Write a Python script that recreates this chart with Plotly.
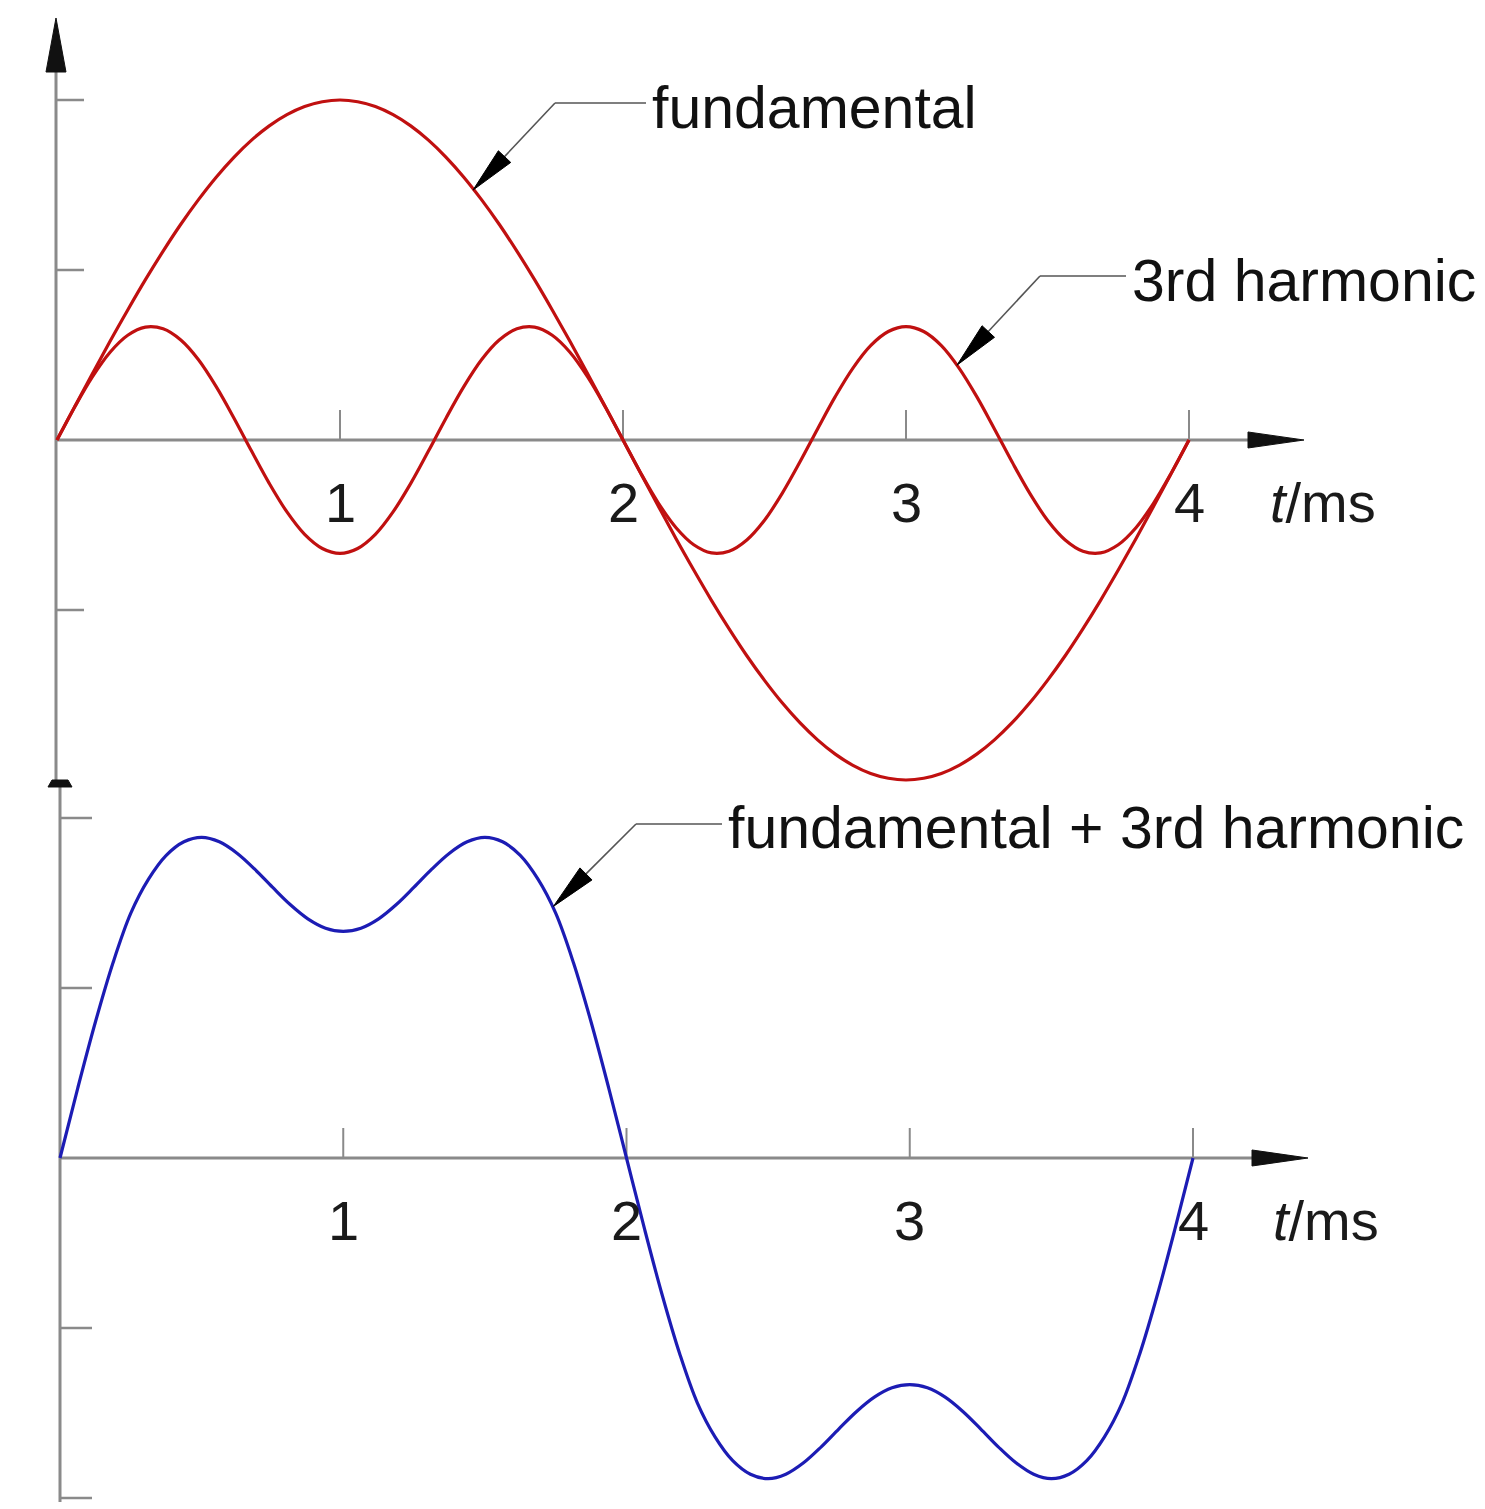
import plotly.graph_objects as go
import math

# ---------------- data ----------------
t_ms = [0, 0.0625, 0.125, 0.1875, 0.25, 0.3125, 0.375, 0.4375, 0.5,
        0.5625, 0.625, 0.6875, 0.75, 0.8125, 0.875, 0.9375, 1.0,
        1.0625, 1.125, 1.1875, 1.25, 1.3125, 1.375, 1.4375, 1.5,
        1.5625, 1.625, 1.6875, 1.75, 1.8125, 1.875, 1.9375, 2.0,
        2.0625, 2.125, 2.1875, 2.25, 2.3125, 2.375, 2.4375, 2.5,
        2.5625, 2.625, 2.6875, 2.75, 2.8125, 2.875, 2.9375, 3.0,
        3.0625, 3.125, 3.1875, 3.25, 3.3125, 3.375, 3.4375, 3.5,
        3.5625, 3.625, 3.6875, 3.75, 3.8125, 3.875, 3.9375, 4.0]

fundamental = [0, 0.196, 0.390, 0.581, 0.765, 0.943, 1.111, 1.269, 1.414,
               1.546, 1.663, 1.764, 1.848, 1.914, 1.962, 1.990, 2.0,
               1.990, 1.962, 1.914, 1.848, 1.764, 1.663, 1.546, 1.414,
               1.269, 1.111, 0.943, 0.765, 0.581, 0.390, 0.196, 0,
               -0.196, -0.390, -0.581, -0.765, -0.943, -1.111, -1.269, -1.414,
               -1.546, -1.663, -1.764, -1.848, -1.914, -1.962, -1.990, -2.0,
               -1.990, -1.962, -1.914, -1.848, -1.764, -1.663, -1.546, -1.414,
               -1.269, -1.111, -0.943, -0.765, -0.581, -0.390, -0.196, 0]

harmonic3 = [0, 0.194, 0.371, 0.516, 0.616, 0.664, 0.654, 0.588, 0.472,
             0.314, 0.130, -0.065, -0.255, -0.423, -0.555, -0.638, -0.667,
             -0.638, -0.555, -0.423, -0.255, -0.065, 0.130, 0.314, 0.472,
             0.588, 0.654, 0.664, 0.616, 0.516, 0.371, 0.194, 0,
             -0.194, -0.371, -0.516, -0.616, -0.664, -0.654, -0.588, -0.472,
             -0.314, -0.130, 0.065, 0.255, 0.423, 0.555, 0.638, 0.667,
             0.638, 0.555, 0.423, 0.255, 0.065, -0.130, -0.314, -0.472,
             -0.588, -0.654, -0.664, -0.616, -0.516, -0.371, -0.194, 0]

combined = [0, 0.41, 0.80, 1.15, 1.44, 1.64, 1.78, 1.86, 1.886,
            1.86, 1.793, 1.699, 1.593, 1.491, 1.407, 1.352, 1.333,
            1.352, 1.407, 1.491, 1.593, 1.699, 1.793, 1.86, 1.886,
            1.86, 1.78, 1.64, 1.44, 1.15, 0.80, 0.41, 0,
            -0.41, -0.80, -1.15, -1.44, -1.64, -1.78, -1.86, -1.886,
            -1.86, -1.793, -1.699, -1.593, -1.491, -1.407, -1.352, -1.333,
            -1.352, -1.407, -1.491, -1.593, -1.699, -1.793, -1.86, -1.886,
            -1.86, -1.78, -1.64, -1.44, -1.15, -0.80, -0.41, 0]

x_ticks = [1, 2, 3, 4]
x_tick_labels = ["1", "2", "3", "4"]
y_ticks_top = [2, 1, -1]
y_ticks_bottom = [2, 1, -1, -2]
axis_title = "<i>t</i>/ms"
label_fund = "fundamental"
label_h3 = "3rd harmonic"
label_sum = "fundamental + 3rd harmonic"

# ---------------- layout geometry ----------------
W, H = 1485, 1509
PPM_T, X0_T, Y0_T = 283.0, 57.0, 440.0     # top panel
PPM_B, X0_B, Y0_B = 283.25, 60.0, 1158.0   # bottom panel
PPU = 170.0

RED = "#c01010"
BLUE = "#1c1cb4"
AXIS = "#8a8a8a"
FONT = "Liberation Sans, Arial, sans-serif"


def xr(x0, ppm):
    return [-x0 / ppm, (W - x0) / ppm]


def yr(y0):
    return [(y0 - H) / PPU, y0 / PPU]


def to_px_top(t, v):
    return X0_T + PPM_T * t, Y0_T - PPU * v


def to_px_bot(t, v):
    return X0_B + PPM_B * t, Y0_B - PPU * v


def P(px, py):
    return px / W, 1 - py / H


fig = go.Figure()
line_kw = dict(shape="spline", smoothing=1.0, width=3.2)
fig.add_trace(go.Scatter(x=t_ms, y=fundamental, mode="lines", line=dict(color=RED, **line_kw),
                         xaxis="x", yaxis="y", hoverinfo="skip"))
fig.add_trace(go.Scatter(x=t_ms, y=harmonic3, mode="lines", line=dict(color=RED, **line_kw),
                         xaxis="x", yaxis="y", hoverinfo="skip"))
fig.add_trace(go.Scatter(x=t_ms, y=combined, mode="lines", line=dict(color=BLUE, **line_kw),
                         xaxis="x2", yaxis="y2", hoverinfo="skip"))

shapes = []
annotations = []


def pline(p0, p1, color, width, layer="below"):
    a = P(*p0)
    b = P(*p1)
    shapes.append(dict(type="line", xref="paper", yref="paper", x0=a[0], y0=a[1], x1=b[0], y1=b[1],
                       line=dict(color=color, width=width), layer=layer))


def ppoly(pts, color, layer="above"):
    path = "M " + " L ".join("%.6f,%.6f" % P(*p) for p in pts) + " Z"
    shapes.append(dict(type="path", xref="paper", yref="paper", path=path,
                       fillcolor=color, line=dict(color=color, width=1), layer=layer))


# ---- axes (top) ----
pline((56, 66), (56, 782), AXIS, 3)
ppoly([(56, 18), (46, 72), (66, 72)], "#111111")
pline((56, Y0_T), (1250, Y0_T), AXIS, 3)
ppoly([(1304, Y0_T), (1248, Y0_T - 8), (1248, Y0_T + 8)], "#111111")
for t in x_ticks:
    px, _ = to_px_top(t, 0)
    pline((px, Y0_T - 30), (px, Y0_T), AXIS, 2)
for v in y_ticks_top:
    _, py = to_px_top(0, v)
    pline((56, py), (84, py), AXIS, 2.5)

# ---- axes (bottom) ----
pline((60, 786), (60, 1502), AXIS, 3)
ppoly([(48, 787), (72, 787), (68, 780), (52, 780)], "#111111")
pline((60, Y0_B), (1255, Y0_B), AXIS, 3)
ppoly([(1308, Y0_B), (1252, Y0_B - 8), (1252, Y0_B + 8)], "#111111")
for t in x_ticks:
    px, _ = to_px_bot(t, 0)
    pline((px, Y0_B - 30), (px, Y0_B), AXIS, 2)
for v in y_ticks_bottom:
    _, py = to_px_bot(0, v)
    pline((60, py), (92, py), AXIS, 2.5)

# ---- tick labels ----
for t, lab in zip(x_ticks, x_tick_labels):
    annotations.append(dict(x=t, y=0, xref="x", yref="y", text=lab, showarrow=False,
                            yshift=-62, font=dict(family=FONT, size=56, color="#1a1a1a")))
    annotations.append(dict(x=t, y=0, xref="x2", yref="y2", text=lab, showarrow=False,
                            yshift=-62, font=dict(family=FONT, size=56, color="#1a1a1a")))
annotations.append(dict(x=(1323 - X0_T) / PPM_T, y=0, xref="x", yref="y", text=axis_title,
                        showarrow=False, yshift=-62, font=dict(family=FONT, size=56, color="#1a1a1a")))
annotations.append(dict(x=(1326 - X0_B) / PPM_B, y=0, xref="x2", yref="y2", text=axis_title,
                        showarrow=False, yshift=-62, font=dict(family=FONT, size=56, color="#1a1a1a")))


# ---- leaders with arrows ----
def leader(tip, elbow, end, text, text_x, text_y):
    tx, ty = tip
    ex, ey = elbow
    dx, dy = ex - tx, ey - ty
    L = math.hypot(dx, dy)
    ux, uy = dx / L, dy / L
    nx, ny = -uy, ux
    hl, hw = 46, 8.5
    bx, by = tx + ux * hl, ty + uy * hl
    pline((bx, by), elbow, "#555555", 1.6, layer="above")
    pline(elbow, end, "#555555", 1.6, layer="above")
    ppoly([(tx, ty), (bx + nx * hw, by + ny * hw), (bx - nx * hw, by - ny * hw)], "#000000")
    ax, ay = P(text_x, text_y)
    annotations.append(dict(x=ax, y=ay, xref="paper", yref="paper", text=text, showarrow=False,
                            xanchor="left", yanchor="middle",
                            font=dict(family=FONT, size=59, color="#111111")))


leader(to_px_top(1.47, 1.47), (555, 103), (646, 103), label_fund, 650, 108)
leader(to_px_top(3.18, 0.44), (1040, 276), (1126, 276), label_h3, 1130, 281)
leader(to_px_bot(1.742, 1.48), (636, 824), (722, 824), label_sum, 726, 828)

ax_common = dict(visible=False, showgrid=False, zeroline=False, fixedrange=True)
fig.update_layout(
    width=W, height=H,
    margin=dict(l=0, r=0, t=0, b=0),
    paper_bgcolor="white", plot_bgcolor="white",
    showlegend=False,
    xaxis=dict(domain=[0, 1], range=xr(X0_T, PPM_T), anchor="y", **ax_common),
    yaxis=dict(domain=[0, 1], range=yr(Y0_T), anchor="x", **ax_common),
    xaxis2=dict(domain=[0, 1], range=xr(X0_B, PPM_B), anchor="y2", overlaying="x", **ax_common),
    yaxis2=dict(domain=[0, 1], range=yr(Y0_B), anchor="x2", overlaying="y", **ax_common),
    shapes=shapes,
    annotations=annotations,
)

fig.write_html("out.html", config={"displayModeBar": False},
               post_script="document.body.style.margin='0px';document.body.style.overflow='hidden';")
